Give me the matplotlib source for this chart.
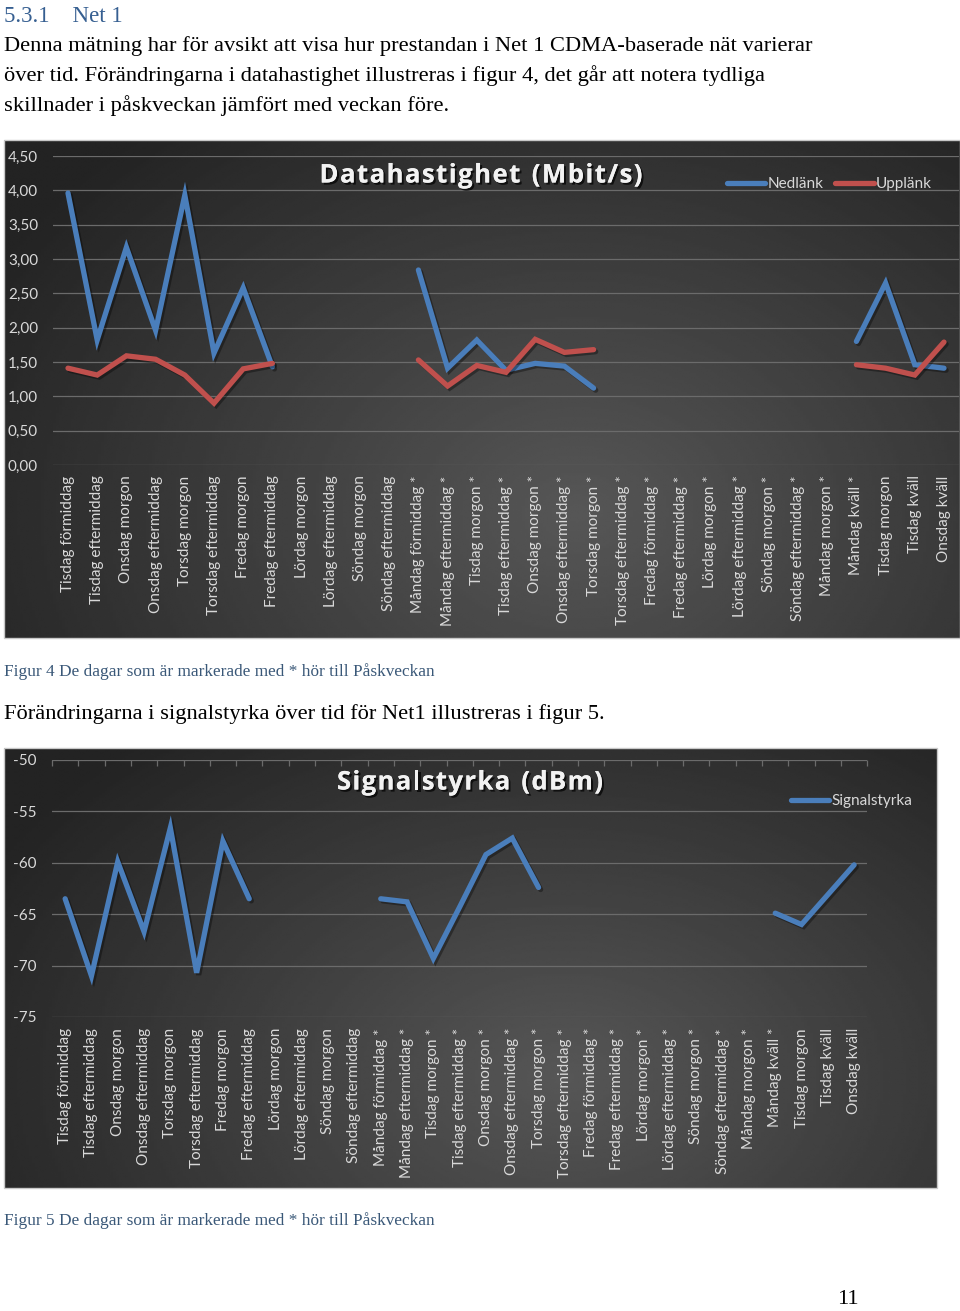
import numpy as np
import matplotlib.pyplot as plt
import matplotlib.patheffects as pe
from matplotlib.lines import Line2D

# =========================================================
# DATA
# =========================================================
nan = np.nan

kategorier = [
    "Tisdag förmiddag", "Tisdag eftermiddag", "Onsdag morgon", "Onsdag eftermiddag",
    "Torsdag morgon", "Torsdag eftermiddag", "Fredag morgon", "Fredag eftermiddag",
    "Lördag morgon", "Lördag eftermiddag", "Söndag morgon", "Söndag eftermiddag",
    "Måndag förmiddag *", "Måndag eftermiddag *", "Tisdag morgon *", "Tisdag eftermiddag *",
    "Onsdag morgon *", "Onsdag eftermiddag *", "Torsdag morgon *", "Torsdag eftermiddag *",
    "Fredag förmiddag *", "Fredag eftermiddag *", "Lördag morgon *", "Lördag eftermiddag *",
    "Söndag morgon *", "Söndag eftermiddag *", "Måndag morgon *", "Måndag kväll *",
    "Tisdag morgon", "Tisdag kväll", "Onsdag kväll",
]

nedlank = [3.96, 1.82, 3.17, 1.96, 3.93, 1.63, 2.58, 1.43,
           nan, nan, nan, nan,
           2.84, 1.41, 1.82, 1.38, 1.48, 1.44, 1.12,
           nan, nan, nan, nan, nan, nan, nan, nan,
           1.80, 2.65, 1.46, 1.41]

upplank = [1.41, 1.31, 1.59, 1.54, 1.31, 0.90, 1.40, 1.48,
           nan, nan, nan, nan,
           1.53, 1.15, 1.45, 1.35, 1.83, 1.64, 1.68,
           nan, nan, nan, nan, nan, nan, nan, nan,
           1.46, 1.41, 1.31, 1.79]

signalstyrka = [-63.5, -71.0, -59.9, -66.7, -56.6, -70.7, -57.9, -63.5,
                nan, nan, nan, nan,
                -63.5, -63.8, -69.3, -64.3, -59.2, -57.6, -62.4,
                nan, nan, nan, nan, nan, nan, nan, nan,
                -64.9, -66.0, -63.1, -60.2]

ticks_hastighet = [0, 0.5, 1, 1.5, 2, 2.5, 3, 3.5, 4, 4.5]
ticks_signal = [-75, -70, -65, -60, -55, -50]

# =========================================================
# FIGURE
# =========================================================
W, H = 960, 1311
fig = plt.figure(figsize=(W / 100, H / 100), dpi=100)
fig.patch.set_facecolor("white")
renderer = fig.canvas.get_renderer()

BLA = "#4a7ebb"
ROD = "#c0504d"
TEXTGRA = "#d9d9d9"
GRID = "#6b6b6b"
SERIF = ["Liberation Serif", "DejaVu Serif"]
SANS = ["Lato", "DejaVu Sans"]
TITELFONT = ["Open Sans", "DejaVu Sans"]


def px_axes(x, y, w, h, **kw):
    return fig.add_axes([x / W, 1 - (y + h) / H, w / W, h / H], **kw)


def fx(x):
    return x / W


def fy(y):
    return 1 - y / H


def bakgrund(x, y, w, h, cx=0.6, cy=0.75):
    ax = px_axes(x, y, w, h)
    ax.set_axis_off()
    yy, xx = np.mgrid[0:1:240j, 0:1:320j]
    r = np.sqrt(((xx - cx) / 0.7) ** 2 + ((yy - cy) / 1.0) ** 2)
    v = 0.34 - 0.2 * np.clip(r, 0, 1)
    ax.imshow(v, cmap="gray", vmin=0, vmax=1, aspect="auto",
              extent=(0, 1, 0, 1), interpolation="bilinear")
    ax.set_xlim(0, 1)
    ax.set_ylim(0, 1)
    ax.add_patch(plt.Rectangle((0, 0), 1, 1, fill=False, ec="#c8c8c8", lw=1.0,
                               transform=ax.transAxes, clip_on=False))
    return ax


def linje_stil(ax, y, color):
    x = np.arange(len(kategorier))
    ax.plot(x, y, color=color, lw=3.8, solid_capstyle="round", solid_joinstyle="miter",
            path_effects=[pe.SimpleLineShadow(offset=(1.5, -1.5), alpha=0.35),
                          pe.Normal()], zorder=3)


def las_axlar(ax, ylim, yticks, ylabels):
    ax.set_facecolor("none")
    ax.set_xlim(-0.5, len(kategorier) - 0.5)
    ax.set_ylim(*ylim)
    ax.set_yticks(yticks)
    ax.set_yticklabels(ylabels, family=SANS, fontsize=11, color=TEXTGRA)
    ax.set_xticks(np.arange(len(kategorier)))
    ax.set_xticklabels(kategorier, rotation=90, family=SANS, fontsize=11, color=TEXTGRA)
    ax.tick_params(axis="both", length=0)
    ax.tick_params(axis="x", pad=7.5)
    ax.tick_params(axis="y", pad=11)
    ax.grid(axis="y", color=GRID, lw=0.9)
    ax.set_axisbelow(True)
    for s in ax.spines.values():
        s.set_visible(False)


titel_effekt = [pe.withSimplePatchShadow(offset=(1.5, -1.5), shadow_rgbFace="black", alpha=0.7),
                pe.Normal()]


def spaerrad_titel(xc, y, s, total_px, **kw):
    # titel med extra teckenavstånd (som i Excel-diagrammet)
    bredd = []
    for ch in s:
        if ch == " ":
            t = fig.text(0, 0, "n", **kw)
            bredd.append(t.get_window_extent(renderer).width * 0.5)
        else:
            t = fig.text(0, 0, ch, **kw)
            bredd.append(t.get_window_extent(renderer).width)
        t.remove()
    extra = (total_px - sum(bredd)) / (len(s) - 1)
    x = xc - total_px / 2
    for ch, b in zip(s, bredd):
        if ch != " ":
            fig.text(fx(x), fy(y), ch, ha="left", va="center",
                     path_effects=titel_effekt, **kw)
        x += b + extra


# =========================================================
# DOKUMENTTEXT
# =========================================================
fig.text(fx(4), fy(16), "5.3.1    Net 1", family=SERIF, fontsize=16.5, color="#365f91",
         va="center", ha="left")
stycke = ["Denna mätning har för avsikt att visa hur prestandan i Net 1 CDMA-baserade nät varierar",
          "över tid. Förändringarna i datahastighet illustreras i figur 4, det går att notera tydliga",
          "skillnader i påskveckan jämfört med veckan före."]
for i, rad in enumerate(stycke):
    fig.text(fx(4), fy(46 + 30 * i), rad, family=SERIF, fontsize=16.2, color="black",
             va="center", ha="left")

# =========================================================
# FIGUR 4: DATAHASTIGHET
# =========================================================
bakgrund(4, 140, 956, 498)
ax1 = px_axes(53.4, 156, 905.2, 309)
las_axlar(ax1, (0, 4.5), ticks_hastighet,
          [f"{t:.2f}".replace(".", ",") for t in ticks_hastighet])
linje_stil(ax1, nedlank, BLA)
linje_stil(ax1, upplank, ROD)

spaerrad_titel(481, 175, "Datahastighet (Mbit/s)", 323, family=TITELFONT,
               fontsize=18.5, fontweight="bold", color="#f2f2f2")

h1 = [Line2D([], [], color=BLA, lw=3.8, solid_capstyle="round"),
      Line2D([], [], color=ROD, lw=3.8, solid_capstyle="round")]
fig.legend(h1, ["Nedlänk", "Upplänk"], loc="center left",
           bbox_to_anchor=(fx(713), fy(184)), ncol=2, frameon=False,
           handlelength=2.5, handletextpad=0.15, columnspacing=0.8,
           prop={"family": SANS, "size": 11}, labelcolor=TEXTGRA)

fig.text(fx(4), fy(672), "Figur 4 De dagar som är markerade med * hör till Påskveckan",
         family=SERIF, fontsize=12.4, color="#3a5878", va="center", ha="left")
fig.text(fx(4), fy(714), "Förändringarna i signalstyrka över tid för Net1 illustreras i figur 5.",
         family=SERIF, fontsize=16.2, color="black", va="center", ha="left")

# =========================================================
# FIGUR 5: SIGNALSTYRKA
# =========================================================
bakgrund(4, 748, 933, 440)
ax2 = px_axes(52, 760, 815.3, 257)
las_axlar(ax2, (-75, -50), ticks_signal, [str(t) for t in ticks_signal])
ax2.tick_params(axis="x", pad=8)
ax2.set_xticks(np.arange(len(kategorier) + 1) - 0.5, minor=True)
ax2.tick_params(axis="x", which="minor", top=True, bottom=False, direction="in",
                length=4, color=GRID, width=0.9)
linje_stil(ax2, signalstyrka, BLA)

spaerrad_titel(470, 782, "Signalstyrka (dBm)", 266, family=TITELFONT,
               fontsize=18.5, fontweight="bold", color="#f2f2f2")

h2 = [Line2D([], [], color=BLA, lw=3.8, solid_capstyle="round")]
fig.legend(h2, ["Signalstyrka"], loc="center left",
           bbox_to_anchor=(fx(777), fy(801)), frameon=False,
           handlelength=2.5, handletextpad=0.15,
           prop={"family": SANS, "size": 11}, labelcolor=TEXTGRA)

fig.text(fx(4), fy(1221), "Figur 5 De dagar som är markerade med * hör till Påskveckan",
         family=SERIF, fontsize=12.4, color="#3a5878", va="center", ha="left")

fig.text(fx(848), fy(1300), "11", family=SERIF, fontsize=16.2, color="black",
         va="center", ha="center")

plt.savefig("out.png", dpi=100)
